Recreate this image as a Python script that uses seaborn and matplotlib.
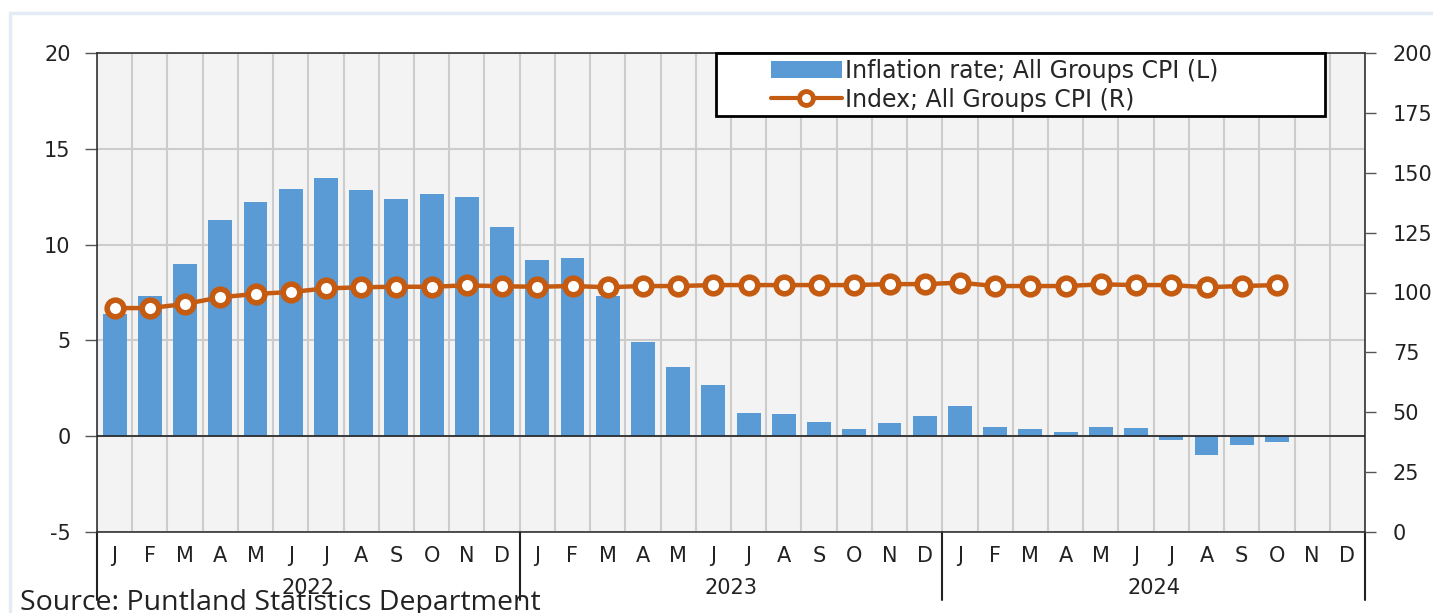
import matplotlib
matplotlib.use("Agg")
import pandas as pd
import seaborn as sns
from matplotlib import pyplot as plt
from matplotlib import transforms
from matplotlib.patches import Patch, Rectangle
from matplotlib.lines import Line2D

YEARS = ["2022", "2023", "2024"]
MONTHS = ["J", "F", "M", "A", "M", "J", "J", "A", "S", "O", "N", "D"]

# monthly inflation rate (%), Jan 2022 - Oct 2024
INFLATION = [6.4, 7.3, 9.0, 11.3, 12.2, 12.9, 13.5, 12.85, 12.4, 12.65, 12.5, 10.9,
             9.2, 9.3, 7.3, 4.9, 3.6, 2.65, 1.2, 1.15, 0.75, 0.4, 0.7, 1.05,
             1.6, 0.5, 0.35, 0.2, 0.5, 0.45, -0.2, -1.0, -0.45, -0.3]
# CPI index, same months
CPI_INDEX = [93.5, 93.5, 95.2, 98.0, 99.4, 100.2, 101.7, 102.2, 102.4, 102.4, 103.0, 102.6,
             102.4, 102.7, 102.2, 102.7, 102.7, 103.1, 103.1, 103.1, 103.1, 103.1, 103.5, 103.5,
             104.1, 102.7, 102.7, 102.7, 103.4, 103.1, 103.1, 102.2, 102.7, 103.1]

LABEL_BAR = "Inflation rate; All Groups CPI (L)"
LABEL_LINE = "Index; All Groups CPI (R)"
SOURCE = "Source: Puntland Statistics Department"

BAR_COLOR = "#5b9bd5"
LINE_COLOR = "#c55a11"
GRID_COLOR = "#cccccc"

sns.set_style("white")
plt.rcParams["font.family"] = ["DejaVu Sans"]
plt.rcParams["axes.unicode_minus"] = False

periods = [f"{y}-{m:02d}" for y in YEARS for m in range(1, 13)]
df_bar = pd.DataFrame({"period": periods[:len(INFLATION)], "rate": INFLATION})
df_line = pd.DataFrame({"pos": range(len(CPI_INDEX)), "index": CPI_INDEX})

fig = plt.figure(figsize=(14.33, 6.13), dpi=100)
ax = fig.add_axes([97 / 1433, 1 - 532 / 613, 1268 / 1433, 479 / 613])
ax.set_facecolor("#f3f3f3")

# faint outer frame of the chart area
fig.patches.append(Rectangle((10 / 1433, -0.1), 1.2, 1 - 13 / 613 + 0.1,
                             transform=fig.transFigure, fill=False,
                             edgecolor="#e3ebf5", linewidth=2.5, zorder=-1))

sns.barplot(data=df_bar, x="period", y="rate", order=periods, color=BAR_COLOR,
            saturation=1, width=0.68, ax=ax, zorder=2, edgecolor="none")

ax.set_xlim(-0.5, len(periods) - 0.5)
ax.set_ylim(-5, 20)
ax.set_yticks(range(-5, 21, 5))
ax.set_xticks(range(len(periods)))
ax.set_xticklabels(MONTHS * len(YEARS))
ax.set_xticks([i - 0.5 for i in range(len(periods) + 1)], minor=True)
ax.tick_params(axis="x", which="both", length=0, pad=10, labelsize=15,
               labelcolor="#222222")
ax.tick_params(axis="y", direction="out", length=9, width=1, color="#555555",
               labelsize=15, pad=10, left=True, labelcolor="#222222")
ax.grid(axis="x", which="minor", color=GRID_COLOR, linewidth=1.5, zorder=0)
ax.grid(axis="y", which="major", color=GRID_COLOR, linewidth=1.5, zorder=0)
ax.set_axisbelow(True)
ax.axhline(0, color="#222222", linewidth=1.2, zorder=3)
ax.set_xlabel("")
ax.set_ylabel("")
for side in ["left", "right", "top", "bottom"]:
    ax.spines[side].set_visible(True)
    ax.spines[side].set_color("#333333")
    ax.spines[side].set_linewidth(1.2)

# year labels and separators below the axis
trans = transforms.blended_transform_factory(ax.transData, ax.transAxes)
for i, year in enumerate(YEARS):
    ax.text(i * 12 + 5.5, -0.117, year, transform=trans, ha="center", va="center",
            fontsize=15, color="#222222")
for i in range(len(YEARS) + 1):
    ax.plot([i * 12 - 0.5, i * 12 - 0.5], [0, -0.142], transform=trans,
            color="#222222", linewidth=1.5, clip_on=False)

ax2 = ax.twinx()
sns.lineplot(data=df_line, x="pos", y="index", ax=ax2, color=LINE_COLOR,
             linewidth=3.2, marker="o", markersize=12, markerfacecolor="white",
             markeredgecolor=LINE_COLOR, markeredgewidth=4, zorder=4)
ax2.set_xlim(-0.5, len(periods) - 0.5)
ax2.set_ylim(0, 200)
ax2.set_yticks(range(0, 201, 25))
ax2.tick_params(axis="y", direction="out", length=8, width=1, color="#555555",
                labelsize=15, pad=12, right=True, labelcolor="#222222")
ax2.set_xlabel("")
ax2.set_ylabel("")
for side in ["left", "right", "top", "bottom"]:
    ax2.spines[side].set_visible(False)

# legend box (wider than its contents, as in the original)
ax2.add_patch(Rectangle((619 / 1268, 1 - 63 / 479), 609 / 1268, 63 / 479,
                        transform=ax2.transAxes, facecolor="white",
                        edgecolor="black", linewidth=2, zorder=5, clip_on=False))
handles = [
    Patch(facecolor=BAR_COLOR, edgecolor="none"),
    Line2D([], [], color=LINE_COLOR, linewidth=3, marker="o", markersize=10,
           markerfacecolor="white", markeredgecolor=LINE_COLOR, markeredgewidth=3.5),
]
leg = ax2.legend(handles, [LABEL_BAR, LABEL_LINE], loc="upper left",
                 bbox_to_anchor=(674 / 1268, 1 - 6 / 479), borderaxespad=0,
                 fontsize=17, handlelength=3.0, handletextpad=0.15, borderpad=0,
                 labelspacing=0.2, frameon=False)
leg.set_zorder(6)

fig.text(20 / 1433, 1 - 589 / 613, SOURCE, ha="left", va="top", fontsize=20.5,
         family=["Open Sans", "DejaVu Sans"], color="#222222")

fig.savefig("out.png", dpi=100, facecolor="white")
